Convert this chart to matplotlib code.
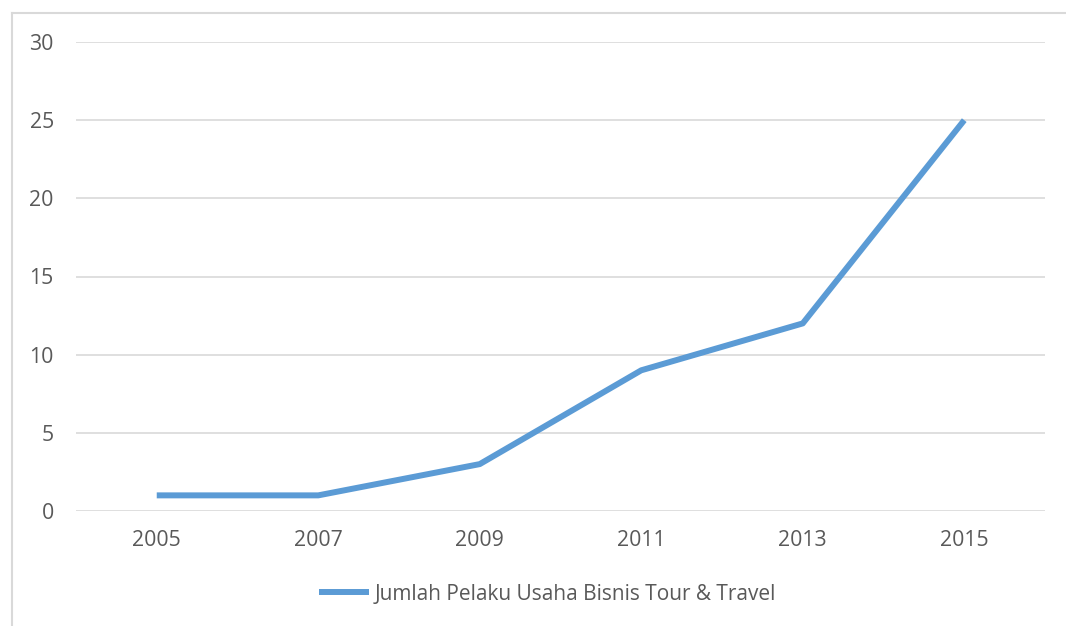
import matplotlib
matplotlib.use("Agg")
import matplotlib.pyplot as plt
from matplotlib.lines import Line2D

years = ["2005", "2007", "2009", "2011", "2013", "2015"]
jumlah = [1, 1, 3, 9, 12, 25]
y_ticks = [0, 5, 10, 15, 20, 25, 30]
series_label = "Jumlah Pelaku Usaha Bisnis Tour & Travel"

text_color = "#595959"
line_color = "#5B9BD5"
grid_color = "#D9D9D9"

plt.rcParams['font.family'] = ['Open Sans', 'DejaVu Sans']

W, H = 1066, 626
fig = plt.figure(figsize=(W / 100, H / 100), dpi=100)
ax = fig.add_axes([76 / W, 1 - 511 / H, (1045 - 76) / W, (511 - 42) / H])

x = list(range(len(years)))
ax.plot(x, jumlah, color=line_color, linewidth=4.3, solid_capstyle="butt",
        solid_joinstyle="round", label=series_label, zorder=3)

ax.set_xlim(-0.5, len(years) - 0.5)
ax.set_ylim(0, 30)
ax.set_xticks(x)
ax.set_xticklabels(years)
ax.set_yticks(y_ticks)
ax.tick_params(axis="both", length=0, labelsize=15.3, colors=text_color)
ax.tick_params(axis="y", pad=16)
ax.tick_params(axis="x", pad=14)
ax.grid(axis="y", color=grid_color, linewidth=1.2)
ax.set_axisbelow(True)
for s in ax.spines.values():
    s.set_visible(False)

# chart border (left and top edges visible)
fig.add_artist(Line2D([12 / W, 12 / W], [-0.1, 1 - 13 / H], transform=fig.transFigure,
                      color=grid_color, linewidth=1.5))
fig.add_artist(Line2D([12 / W, 1.1], [1 - 13 / H, 1 - 13 / H], transform=fig.transFigure,
                      color=grid_color, linewidth=1.5))

leg = fig.legend(loc="center", bbox_to_anchor=(547.5 / W, 1 - 594 / H), frameon=False,
                 fontsize=15, handlelength=2.4, handletextpad=0.3)
for t in leg.get_texts():
    t.set_color(text_color)

fig.savefig("out.png", dpi=100)
